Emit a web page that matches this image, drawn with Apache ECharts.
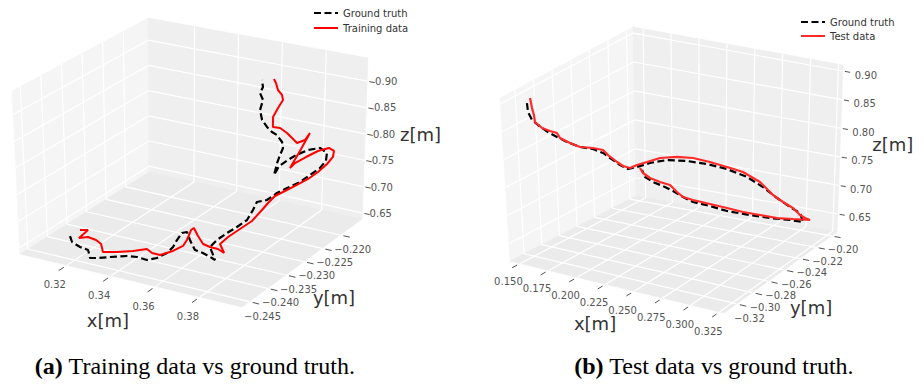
<!DOCTYPE html>
<html><head><meta charset="utf-8">
<script src="https://cdn.jsdelivr.net/npm/echarts@6/dist/echarts.min.js"></script>
<style>html,body{margin:0;padding:0;background:#fff}#c{width:924px;height:387px}</style>
</head><body><div id="c"></div>
<script>
// ---------- tick values ----------
const xTicksA=[0.32,0.34,0.36,0.38];
const yTicksA=[-0.245,-0.240,-0.235,-0.230,-0.225,-0.220];
const zTicksA=[0.65,0.70,0.75,0.80,0.85,0.90];
const xTicksB=[0.150,0.175,0.200,0.225,0.250,0.275,0.300,0.325];
const yTicksB=[-0.32,-0.30,-0.28,-0.26,-0.24,-0.22,-0.20];
const zTicksB=[0.65,0.70,0.75,0.80,0.85,0.90];

// ---------- trajectories [x, y, z] in metres ----------
const groundTruthA=[[0.3172,-0.2444,0.6784],[0.3175,-0.2441,0.6660],[0.3205,-0.2438,0.6581],[0.3236,-0.2435,0.6541],[0.3238,-0.2432,0.6378],[0.3266,-0.2430,0.6396],[0.3321,-0.2427,0.6454],[0.3393,-0.2424,0.6530],
[0.3433,-0.2421,0.6536],[0.3473,-0.2418,0.6504],[0.3515,-0.2416,0.6574],[0.3556,-0.2413,0.6694],[0.3579,-0.2410,0.6815],[0.3592,-0.2407,0.6946],[0.3610,-0.2404,0.7082],[0.3629,-0.2402,0.7110],
[0.3637,-0.2399,0.6952],[0.3654,-0.2396,0.6764],[0.3685,-0.2393,0.6723],[0.3721,-0.2390,0.6648],[0.3730,-0.2387,0.6603],[0.3683,-0.2373,0.6736],[0.3691,-0.2359,0.6807],[0.3713,-0.2345,0.6892],
[0.3733,-0.2330,0.6951],[0.3755,-0.2316,0.7035],[0.3758,-0.2302,0.7159],[0.3750,-0.2287,0.7230],[0.3772,-0.2273,0.7218],[0.3794,-0.2259,0.7302],[0.3814,-0.2244,0.7341],[0.3849,-0.2230,0.7417],
[0.3870,-0.2216,0.7499],[0.3892,-0.2202,0.7581],[0.3893,-0.2187,0.7644],[0.3873,-0.2173,0.7705],[0.3846,-0.2176,0.7792],[0.3794,-0.2178,0.7719],[0.3745,-0.2181,0.7596],[0.3713,-0.2184,0.7488],
[0.3678,-0.2187,0.7356],[0.3659,-0.2189,0.7177],[0.3672,-0.2189,0.7418],[0.3685,-0.2189,0.7583],[0.3698,-0.2189,0.7729],[0.3693,-0.2189,0.7840],[0.3669,-0.2189,0.7954],[0.3646,-0.2189,0.7991],
[0.3623,-0.2189,0.8068],[0.3600,-0.2189,0.8182],[0.3590,-0.2189,0.8366],[0.3603,-0.2189,0.8570],[0.3589,-0.2189,0.8692],[0.3602,-0.2189,0.8819],[0.3597,-0.2189,0.8950]];
const trainingA=[[0.3206,-0.2437,0.6898],[0.3237,-0.2434,0.6915],[0.3189,-0.2431,0.6702],[0.3225,-0.2428,0.6742],[0.3254,-0.2424,0.6695],[0.3271,-0.2421,0.6622],[0.3273,-0.2418,0.6459],[0.3332,-0.2415,0.6502],
[0.3400,-0.2412,0.6573],[0.3458,-0.2409,0.6654],[0.3476,-0.2406,0.6581],[0.3505,-0.2402,0.6552],[0.3559,-0.2399,0.6667],[0.3600,-0.2396,0.6787],[0.3613,-0.2393,0.6899],[0.3627,-0.2390,0.7087],
[0.3635,-0.2387,0.7119],[0.3648,-0.2384,0.6964],[0.3664,-0.2380,0.6808],[0.3690,-0.2377,0.6762],[0.3721,-0.2374,0.6739],[0.3744,-0.2371,0.6670],[0.3700,-0.2356,0.6724],[0.3711,-0.2341,0.6794],
[0.3738,-0.2325,0.6893],[0.3767,-0.2310,0.6998],[0.3787,-0.2295,0.7151],[0.3789,-0.2280,0.7212],[0.3793,-0.2264,0.7269],[0.3813,-0.2249,0.7308],[0.3842,-0.2234,0.7374],[0.3867,-0.2219,0.7435],
[0.3885,-0.2203,0.7504],[0.3900,-0.2188,0.7594],[0.3901,-0.2173,0.7653],[0.3910,-0.2176,0.7790],[0.3890,-0.2178,0.7840],[0.3845,-0.2181,0.7759],[0.3796,-0.2184,0.7617],[0.3751,-0.2187,0.7478],
[0.3732,-0.2189,0.7376],[0.3776,-0.2189,0.7740],[0.3820,-0.2189,0.8121],[0.3798,-0.2189,0.7969],[0.3762,-0.2189,0.7880],[0.3715,-0.2189,0.8031],[0.3683,-0.2189,0.8099],[0.3650,-0.2189,0.8091],
[0.3650,-0.2189,0.8282],[0.3672,-0.2189,0.8474],[0.3694,-0.2189,0.8646],[0.3689,-0.2189,0.8738],[0.3670,-0.2189,0.8818],[0.3661,-0.2189,0.8945],[0.3651,-0.2189,0.9014]];
const groundTruthB=[[0.1463,-0.3145,0.8850],[0.1434,-0.3104,0.8641],[0.1431,-0.3062,0.8460],[0.1446,-0.3020,0.8342],[0.1497,-0.2979,0.8205],[0.1540,-0.2937,0.8099],[0.1592,-0.2895,0.7997],[0.1672,-0.2854,0.7908],
[0.1752,-0.2812,0.7870],[0.1806,-0.2770,0.7786],[0.1833,-0.2728,0.7672],[0.1888,-0.2687,0.7535],[0.1925,-0.2645,0.7443],[0.1967,-0.2597,0.7454],[0.2047,-0.2550,0.7515],[0.2162,-0.2502,0.7570],
[0.2304,-0.2454,0.7565],[0.2447,-0.2407,0.7525],[0.2590,-0.2359,0.7448],[0.2735,-0.2311,0.7318],[0.2845,-0.2264,0.7139],[0.2938,-0.2216,0.6935],[0.3023,-0.2168,0.6762],[0.3081,-0.2121,0.6633],
[0.3076,-0.2073,0.6427],[0.2986,-0.2115,0.6471],[0.2833,-0.2156,0.6490],[0.2680,-0.2198,0.6526],[0.2501,-0.2240,0.6569],[0.2377,-0.2282,0.6649],[0.2254,-0.2323,0.6710],[0.2196,-0.2365,0.6812],
[0.2138,-0.2407,0.6933],[0.2098,-0.2448,0.7024],[0.2024,-0.2490,0.7119],[0.1986,-0.2532,0.7228],[0.1993,-0.2574,0.7391]];
const testB=[[0.1492,-0.3145,0.8952],[0.1477,-0.3112,0.8738],[0.1464,-0.3079,0.8579],[0.1442,-0.3045,0.8415],[0.1474,-0.3012,0.8294],[0.1515,-0.2979,0.8231],[0.1548,-0.2945,0.8180],[0.1546,-0.2912,0.8062],
[0.1605,-0.2879,0.7971],[0.1665,-0.2845,0.7897],[0.1753,-0.2812,0.7888],[0.1813,-0.2778,0.7849],[0.1830,-0.2745,0.7738],[0.1882,-0.2712,0.7608],[0.1907,-0.2678,0.7518],[0.1943,-0.2645,0.7469],
[0.1976,-0.2607,0.7501],[0.2036,-0.2569,0.7545],[0.2123,-0.2531,0.7616],[0.2244,-0.2492,0.7647],[0.2358,-0.2454,0.7639],[0.2481,-0.2416,0.7582],[0.2605,-0.2378,0.7507],[0.2720,-0.2340,0.7427],
[0.2846,-0.2302,0.7264],[0.2937,-0.2264,0.7034],[0.3001,-0.2226,0.6898],[0.3064,-0.2187,0.6778],[0.3102,-0.2149,0.6632],[0.3121,-0.2111,0.6550],[0.3140,-0.2073,0.6484],[0.3009,-0.2109,0.6490],
[0.2889,-0.2145,0.6499],[0.2758,-0.2180,0.6538],[0.2629,-0.2216,0.6577],[0.2510,-0.2252,0.6636],[0.2381,-0.2287,0.6690],[0.2254,-0.2323,0.6745],[0.2191,-0.2359,0.6805],[0.2165,-0.2395,0.6915],
[0.2130,-0.2430,0.7055],[0.2068,-0.2466,0.7115],[0.2007,-0.2502,0.7193],[0.1973,-0.2538,0.7299],[0.1976,-0.2574,0.7419]];

// ---------- 3D view layout (box corner screen positions and axis ranges) ----------
const PANELS=[
 {c:{'000':[20,254],'100':[242,307],'010':[149,172],'110':[362,219],'001':[12,91],'101':[241,146],'011':[148,18],'111':[368,58]},
  xr:[0.2988,0.399], yr:[-0.247,-0.214], zr:[0.6385,0.944], xt:xTicksA, yt:yTicksA, zt:zTicksA, dec:[2,3,2], zLab:[1.07,1.03]},
 {c:{'000':[510,261],'100':[724,313],'010':[636,196],'110':[837,232],'001':[500,98],'101':[722,148],'011':[633,27],'111':[843,65]},
  xr:[0.141,0.329], yr:[-0.336,-0.193], zr:[0.6185,0.9105], xt:xTicksB, yt:yTicksB, zt:zTicksB, dec:[3,2,2], zLab:[1.11,1.0]}
];
function proj(pn,u,v,w){
  let x=0,y=0;
  for(const i of [0,1])for(const j of [0,1])for(const k of [0,1]){
    const wt=(i?u:1-u)*(j?v:1-v)*(k?w:1-w); const p=pn.c[''+i+j+k]; x+=wt*p[0]; y+=wt*p[1];
  }
  return [x,y];
}
function norm(pn,x,y,z){return [(x-pn.xr[0])/(pn.xr[1]-pn.xr[0]),(y-pn.yr[0])/(pn.yr[1]-pn.yr[0]),(z-pn.zr[0])/(pn.zr[1]-pn.zr[0])];}
function project3(pn,arr){return arr.map(p=>{const n=norm(pn,p[0],p[1],p[2]);return proj(pn,n[0],n[1],n[2]);});}
function fmt(v,d){return v.toFixed(d).replace('-','\u2212');}

function frame(pn){
  return function(params,api){
    const P=(u,v,w)=>api.coord(proj(pn,u,v,w));
    const ch=[];
    const poly=(pts,fill)=>ch.push({type:'polygon',shape:{points:pts},style:{fill:fill,stroke:fill,lineWidth:0.6},silent:true});
    const ln=(a,b,stroke,lw)=>ch.push({type:'line',shape:{x1:a[0],y1:a[1],x2:b[0],y2:b[1]},style:{stroke:stroke,lineWidth:lw},silent:true});
    const tx=(p,t,size,color)=>ch.push({type:'text',x:p[0],y:p[1],style:{text:t,fontSize:size,fontFamily:'DejaVu Sans',fill:color,align:'center',verticalAlign:'middle'},silent:true});
    poly([P(0,0,0),P(0,1,0),P(0,1,1),P(0,0,1)],'#f5f5f5');
    poly([P(0,1,0),P(1,1,0),P(1,1,1),P(0,1,1)],'#efefef');
    poly([P(0,0,0),P(1,0,0),P(1,1,0),P(0,1,0)],'#ebebeb');
    const G='#ffffff',GW=1.2,TC='#555555';
    pn.xt.forEach(t=>{const u=norm(pn,t,0,0)[0]; ln(P(u,0,0),P(u,1,0),G,GW); ln(P(u,1,0),P(u,1,1),G,GW);});
    pn.yt.forEach(t=>{const v=norm(pn,0,t,0)[1]; ln(P(0,v,0),P(1,v,0),G,GW); ln(P(0,v,0),P(0,v,1),G,GW);});
    pn.zt.forEach(t=>{const w=norm(pn,0,0,t)[2]; ln(P(0,0,w),P(0,1,w),G,GW); ln(P(0,1,w),P(1,1,w),G,GW);});
    pn.xt.forEach(t=>{const u=norm(pn,t,0,0)[0]; ln(P(u,-0.025,0),P(u,-0.065,0),TC,1); tx(P(u,-0.1,-0.07),fmt(t,pn.dec[0]),10,TC);});
    pn.yt.forEach(t=>{const v=norm(pn,0,t,0)[1]; ln(P(1.015,v,0),P(1.045,v,0),TC,1); tx(P(1.06,v,-0.07),fmt(t,pn.dec[1]),10,TC);});
    pn.zt.forEach(t=>{const w=norm(pn,0,0,t)[2]; ln(P(1.01,1,w),P(1.035,1,w),TC,1); tx(P(pn.zLab[0],pn.zLab[1],w),fmt(t,pn.dec[2]),10,TC);});
    tx(P(0.55,-0.28,-0.08),'x[m]',18,'#333333');
    tx(P(1.15,0.5,-0.17),'y[m]',18,'#333333');
    tx(P(1.2,1.1,0.52),'z[m]',18,'#333333');
    return {type:'group',children:ch};
  };
}

const chart=echarts.init(document.getElementById('c'),null,{renderer:'svg'});
const FONT='DejaVu Sans';
const legendBase={orient:'vertical',itemWidth:24,itemHeight:10,selectedMode:false,
  itemStyle:{color:'rgba(0,0,0,0)',borderColor:'rgba(0,0,0,0)',borderWidth:0},
  textStyle:{fontSize:10,fontFamily:FONT,color:'#333'}};
const lineBase={type:'line',showSymbol:false,symbol:'none',clip:false,silent:true};
chart.setOption({
  animation:false,
  grid:{left:0,right:0,top:0,bottom:0},
  xAxis:{type:'value',min:0,max:924,show:false},
  yAxis:{type:'value',min:0,max:387,inverse:true,show:false},
  title:[
    {text:'{b|(a)} Training data vs ground truth.',left:190,top:349,textAlign:'center',textStyle:{fontFamily:'Liberation Serif',fontSize:24,fontWeight:'normal',color:'#000',rich:{b:{fontFamily:'Liberation Serif',fontSize:24,fontWeight:'bold',color:'#000'}}}},
    {text:'{b|(b)} Test data vs ground truth.',left:709,top:349,textAlign:'center',textStyle:{fontFamily:'Liberation Serif',fontSize:24,fontWeight:'normal',color:'#000',rich:{b:{fontFamily:'Liberation Serif',fontSize:24,fontWeight:'bold',color:'#000'}}}}
  ],
  legend:[
    Object.assign({data:['Ground truth','Training data'],left:308,top:3,itemGap:5},legendBase),
    Object.assign({data:['Ground truth','Test data'],left:795,top:12,itemGap:4},legendBase)
  ],
  series:[
    {type:'custom',renderItem:frame(PANELS[0]),data:[[0]],silent:true,z:1},
    {type:'custom',renderItem:frame(PANELS[1]),data:[[0]],silent:true,z:1},
    Object.assign({name:'Ground truth',data:project3(PANELS[0],groundTruthA),lineStyle:{color:'#000',width:2.2,type:[7,3.5]},itemStyle:{color:'#000'},z:3},lineBase),
    Object.assign({name:'Training data',data:project3(PANELS[0],trainingA),lineStyle:{color:'#ff0000',width:2},itemStyle:{color:'#ff0000'},z:4},lineBase),
    Object.assign({name:'Ground truth',data:project3(PANELS[1],groundTruthB),lineStyle:{color:'#000',width:2.2,type:[7,3.5]},itemStyle:{color:'#000'},z:3},lineBase),
    Object.assign({name:'Test data',data:project3(PANELS[1],testB),lineStyle:{color:'#ff2a2a',width:2.2},itemStyle:{color:'#ff2a2a'},z:4},lineBase)
  ]
});
</script></body></html>
